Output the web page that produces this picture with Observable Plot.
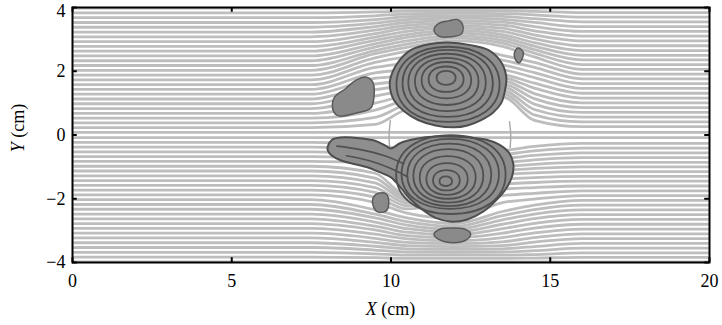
<!DOCTYPE html>
<html>
<head>
<meta charset="utf-8">
<script src="https://cdn.jsdelivr.net/npm/d3@7"></script>
<script src="https://cdn.jsdelivr.net/npm/@observablehq/plot@0.6"></script>
<style>
  body { margin: 0; background: #fff; }
  #chart { width: 722px; height: 325px; }
  #chart svg text { font-family: "Liberation Serif", "Times New Roman", serif; }
</style>
</head>
<body>
<div id="chart"></div>
<script>
// Axis ticks (cm)
const xTicks = [0, 5, 10, 15, 20];
const yTicks = [-4, -2, 0, 2, 4];

// Streamlines: x stations (cm) at which each line's y (cm) is given.
// Row = [upstream y, y@9.5, y@10.5, y@12, y@13.5, y@14.5, downstream y]
const xStations = [0, 7.5, 9.5, 10.5, 12, 13.5, 14.5, 16, 20];

// lines passing over the upper vortex
const upperOver = [
  [2.03, 2.55, 2.75, 2.95, 2.78, 2.45, 2.06],
  [2.18, 2.65, 2.85, 3.04, 2.88, 2.57, 2.21],
  [2.33, 2.76, 2.95, 3.12, 2.97, 2.68, 2.36],
  [2.48, 2.86, 3.06, 3.20, 3.06, 2.79, 2.50],
  [2.63, 2.97, 3.15, 3.28, 3.15, 2.90, 2.65],
  [2.78, 3.07, 3.25, 3.36, 3.25, 3.02, 2.80],
  [2.93, 3.18, 3.35, 3.43, 3.35, 3.14, 2.95],
  [3.08, 3.29, 3.44, 3.51, 3.45, 3.27, 3.10],
  [3.23, 3.40, 3.53, 3.59, 3.54, 3.40, 3.25],
  [3.38, 3.51, 3.62, 3.67, 3.63, 3.53, 3.40],
  [3.53, 3.62, 3.71, 3.74, 3.72, 3.65, 3.55],
  [3.68, 3.74, 3.80, 3.82, 3.81, 3.77, 3.70],
  [3.83, 3.86, 3.89, 3.90, 3.90, 3.88, 3.84],
  [3.98, 3.98, 3.98, 3.98, 3.98, 3.98, 3.98]
];
// lines drawn into the upper vortex
const upperInner = [
  [1.88, 2.42, 2.62, 2.75, 2.50, 2.28, 1.91],
  [1.73, 2.28, 2.45, 2.55, 2.35, 2.12, 1.76],
  [1.58, 2.12, 2.25, 2.35, 2.20, 1.96, 1.61],
  [1.43, 1.95, 2.05, 2.15, 2.05, 1.80, 1.46],
  [1.28, 1.78, 1.85, 2.00, 1.90, 1.63, 1.31],
  [1.13, 1.60, 1.70, 1.85, 1.80, 1.47, 1.16],
  [0.98, 1.42, 1.55, 1.70, 1.70, 1.30, 1.01],
  [0.83, 1.22, 1.40, 1.55, 1.60, 1.14, 0.86],
  [0.68, 1.00, 1.25, 1.40, 1.50, 0.97, 0.71],
  [0.53, 0.78, 1.10, 1.25, 1.40, 0.80, 0.56],
  [0.38, 0.55, 0.95, 1.10, 1.30, 0.63, 0.41],
  [0.23, 0.33, 0.80, 0.95, 1.20, 0.46, 0.26]
];
// lines through the gap between the vortices
const centre = [
  [0.08, 0.08, 0.08, 0.08, 0.08, 0.08, 0.08],
  [-0.08, -0.08, -0.08, -0.08, -0.08, -0.08, -0.08]
];
// lines drawn into the lower vortex
const lowerInner = [
  [-0.23, -0.30, -0.50, -0.60, -0.50, -0.36, -0.26],
  [-0.38, -0.45, -0.65, -0.75, -0.62, -0.50, -0.41],
  [-0.53, -0.60, -0.80, -0.90, -0.75, -0.64, -0.56],
  [-0.68, -0.75, -0.95, -1.05, -0.88, -0.78, -0.71],
  [-0.83, -0.90, -1.10, -1.20, -1.00, -0.92, -0.86],
  [-0.98, -1.20, -1.90, -1.35, -1.12, -1.05, -1.00],
  [-1.13, -1.35, -1.98, -1.50, -1.25, -1.19, -1.15],
  [-1.28, -1.50, -2.05, -1.65, -1.40, -1.34, -1.30],
  [-1.43, -1.65, -2.13, -1.80, -1.55, -1.49, -1.45],
  [-1.58, -1.80, -2.22, -1.95, -1.70, -1.65, -1.60],
  [-1.73, -1.95, -2.32, -2.10, -1.90, -1.83, -1.75],
  [-1.88, -2.12, -2.45, -2.62, -2.12, -2.01, -1.90]
];
// lines passing under the lower vortex
const lowerOver = [
  [-2.03, -2.35, -2.60, -2.78, -2.40, -2.20, -2.05],
  [-2.18, -2.48, -2.72, -2.87, -2.53, -2.34, -2.20],
  [-2.33, -2.60, -2.83, -2.96, -2.66, -2.48, -2.35],
  [-2.48, -2.73, -2.94, -3.05, -2.80, -2.62, -2.50],
  [-2.63, -2.86, -3.05, -3.14, -2.94, -2.77, -2.65],
  [-2.78, -2.98, -3.16, -3.23, -3.08, -2.92, -2.80],
  [-2.93, -3.11, -3.26, -3.32, -3.22, -3.07, -2.95],
  [-3.08, -3.24, -3.37, -3.41, -3.35, -3.22, -3.10],
  [-3.23, -3.37, -3.47, -3.50, -3.47, -3.36, -3.25],
  [-3.38, -3.49, -3.57, -3.59, -3.57, -3.50, -3.40],
  [-3.53, -3.61, -3.67, -3.68, -3.67, -3.63, -3.55],
  [-3.68, -3.73, -3.77, -3.77, -3.77, -3.75, -3.70],
  [-3.83, -3.85, -3.87, -3.87, -3.87, -3.86, -3.84],
  [-3.98, -3.98, -3.98, -3.98, -3.98, -3.98, -3.98]
];

// Dividing streamlines at the front and rear stagnation points
const separatrices = [
  [[9.96, -0.42], [9.94, 0.0], [9.98, 0.45]],
  [[13.74, -0.40], [13.76, 0.0], [13.72, 0.42]]
];

// Vorticity patches (outlines, cm)
const upperVortex = [[9.97,1.72],[10.2,2.25],[10.63,2.67],[11.2,2.85],[11.79,2.9],[12.5,2.82],[13.05,2.67],[13.45,2.3],[13.62,1.82],[13.58,1.4],[13.46,1.0],[13.2,0.7],[12.83,0.47],[12.4,0.3],[11.98,0.24],[11.4,0.3],[10.85,0.47],[10.4,0.75],[10.09,1.1],[9.98,1.4]];
const lowerVortex = [[8.02,-0.35],[8.15,-0.15],[8.43,-0.08],[9.0,-0.1],[9.5,-0.18],[9.85,-0.35],[10.0,-0.42],[10.3,-0.25],[10.8,-0.12],[11.4,-0.05],[11.9,-0.05],[12.5,-0.08],[13.0,-0.15],[13.4,-0.3],[13.7,-0.55],[13.84,-0.9],[13.8,-1.3],[13.6,-1.7],[13.3,-2.05],[12.9,-2.4],[12.4,-2.65],[11.9,-2.72],[11.4,-2.6],[11.0,-2.35],[10.6,-2.0],[10.3,-1.65],[10.0,-1.33],[9.6,-1.15],[9.28,-1.02],[8.8,-0.9],[8.43,-0.8],[8.15,-0.65],[8.02,-0.5]];
const leftPatch = [[8.21,1.16],[8.58,1.46],[8.9,1.72],[9.21,1.82],[9.43,1.65],[9.47,1.25],[9.37,0.85],[8.9,0.69],[8.36,0.6],[8.18,0.78]];
const topPatch = [[11.35,3.3],[11.5,3.5],[11.8,3.58],[12.1,3.62],[12.25,3.45],[12.22,3.18],[11.9,3.08],[11.5,3.1]];
const rightPatch = [[13.87,2.55],[13.98,2.73],[14.15,2.6],[14.12,2.4],[14.02,2.26],[13.9,2.38]];
const lowerLeftPatch = [[9.45,-1.95],[9.6,-1.83],[9.85,-1.85],[9.93,-2.1],[9.85,-2.38],[9.6,-2.42],[9.45,-2.25]];
const bottomPatch = [[11.35,-3.12],[11.55,-2.95],[11.9,-2.92],[12.3,-2.95],[12.5,-3.1],[12.35,-3.3],[11.95,-3.38],[11.55,-3.3]];

// Closed streamlines inside each vortex: [cx, cy, rx, ry] (cm)
const upperRings = [
  [11.73, 1.79, 0.30, 0.22],
  [11.73, 1.75, 0.55, 0.40],
  [11.74, 1.72, 0.78, 0.57],
  [11.75, 1.68, 1.00, 0.74],
  [11.76, 1.65, 1.22, 0.90],
  [11.78, 1.62, 1.42, 1.05],
  [11.79, 1.59, 1.62, 1.18]
];
const lowerRings = [
  [11.72, -1.45, 0.20, 0.15],
  [11.74, -1.42, 0.42, 0.32],
  [11.76, -1.38, 0.65, 0.50],
  [11.78, -1.33, 0.88, 0.67],
  [11.80, -1.28, 1.10, 0.84],
  [11.83, -1.25, 1.32, 0.98],
  [11.86, -1.22, 1.53, 1.10],
  [11.88, -1.24, 1.72, 1.24]
];
// Streamlines running into the lower vortex's tail
const tailLines = [
  [[8.3, -0.35], [9.0, -0.45], [9.8, -0.65], [10.4, -0.9]],
  [[8.6, -0.65], [9.3, -0.8], [10.0, -1.05], [10.5, -1.3]]
];

// ---- build mark tables ----
const streamRows = [...upperOver, ...upperInner, ...centre, ...lowerInner, ...lowerOver];
const streamPoints = streamRows.flatMap((r, id) => {
  const ys = [r[0], r[0], r[1], r[2], r[3], r[4], r[5], r[6], r[6]];
  return xStations.map((x, k) => ({id, x, y: ys[k]}));
});
const toPoints = (lists) => lists.flatMap((pts, id) => pts.map(([x, y]) => ({id, x, y})));
// control polygon of a closed B-spline that traces an ellipse of radii rx, ry
const ringHull = ([cx, cy, rx, ry]) => {
  const k = 1.09;
  return [[cx + k * rx, cy + k * ry], [cx - k * rx, cy + k * ry], [cx - k * rx, cy - k * ry], [cx + k * rx, cy - k * ry]];
};

const patchPoints = toPoints([upperVortex, lowerVortex]);
const smallPatchPoints = toPoints([leftPatch, topPatch, rightPatch, lowerLeftPatch, bottomPatch]);
const ringPoints = toPoints([...upperRings, ...lowerRings].map(ringHull));
const sepPoints = toPoints(separatrices);
const tailPoints = toPoints(tailLines);

const serif = "Liberation Serif, Times New Roman, serif";
const fmtY = d => d < 0 ? `\u2212${-d}` : `${d}`;

const chart = Plot.plot({
  width: 722,
  height: 325,
  marginLeft: 72,
  marginRight: 13,
  marginTop: 7,
  marginBottom: 63,
  x: {domain: [0, 20]},
  y: {domain: [-4, 4]},
  style: {fontFamily: serif, fontSize: "18px", color: "#000", background: "#fff"},
  marks: [
    Plot.line(streamPoints, {x: "x", y: "y", z: "id", curve: "monotone-x", stroke: "#bdbdbd", strokeWidth: 2.8, clip: true}),
    Plot.line(sepPoints, {x: "x", y: "y", z: "id", curve: "catmull-rom", stroke: "#a8a8a8", strokeWidth: 1.4}),
    Plot.line(patchPoints, {x: "x", y: "y", z: "id", curve: "catmull-rom-closed", fill: "#8e8e8e", stroke: "#4e4e4e", strokeWidth: 2}),
    Plot.line(smallPatchPoints, {x: "x", y: "y", z: "id", curve: "catmull-rom-closed", fill: "#8a8a8a", stroke: "#5a5a5a", strokeWidth: 1.5}),
    Plot.line(ringPoints, {x: "x", y: "y", z: "id", curve: "basis-closed", stroke: "#505050", strokeWidth: 1.8}),
    Plot.line(tailPoints, {x: "x", y: "y", z: "id", curve: "catmull-rom", stroke: "#505050", strokeWidth: 1.6}),
    // inward tick marks on all four sides
    Plot.ruleX(xTicks, {x: d => d, y1: -4, y2: -3.85, stroke: "#000", strokeWidth: 2}),
    Plot.ruleX(xTicks, {x: d => d, y1: 4, y2: 3.85, stroke: "#000", strokeWidth: 2}),
    Plot.ruleY(yTicks, {y: d => d, x1: 0, x2: 0.15, stroke: "#000", strokeWidth: 2}),
    Plot.ruleY(yTicks, {y: d => d, x1: 20, x2: 19.85, stroke: "#000", strokeWidth: 2}),
    Plot.frame({stroke: "#000", strokeWidth: 2}),
    Plot.axisX({ticks: xTicks, tickSize: 0, tickPadding: 12, label: null, fontSize: 18, fontFamily: serif}),
    // the top label sits a little lower so it stays inside the figure
    Plot.axisY({ticks: yTicks.slice(0, -1), tickSize: 0, tickPadding: 7, label: null, fontSize: 18, fontFamily: serif, tickFormat: fmtY}),
    Plot.axisY({ticks: yTicks.slice(-1), tickSize: 0, tickPadding: 7, label: null, fontSize: 18, fontFamily: serif, tickFormat: fmtY, dy: 4})
  ]
});

// Axis titles with italic variable names
const svg = d3.select(chart);
const xt = svg.append("text")
  .attr("x", (72 + 709) / 2).attr("y", 315)
  .attr("text-anchor", "middle")
  .attr("font-family", serif).attr("font-size", 18).attr("fill", "#000");
xt.append("tspan").attr("font-style", "italic").text("X");
xt.append("tspan").text(" (cm)");

const yt = svg.append("text")
  .attr("transform", "translate(24,128) rotate(-90)")
  .attr("text-anchor", "middle")
  .attr("font-family", serif).attr("font-size", 18).attr("fill", "#000");
yt.append("tspan").attr("font-style", "italic").text("Y");
yt.append("tspan").text(" (cm)");

document.getElementById("chart").appendChild(chart);
</script>
</body>
</html>
